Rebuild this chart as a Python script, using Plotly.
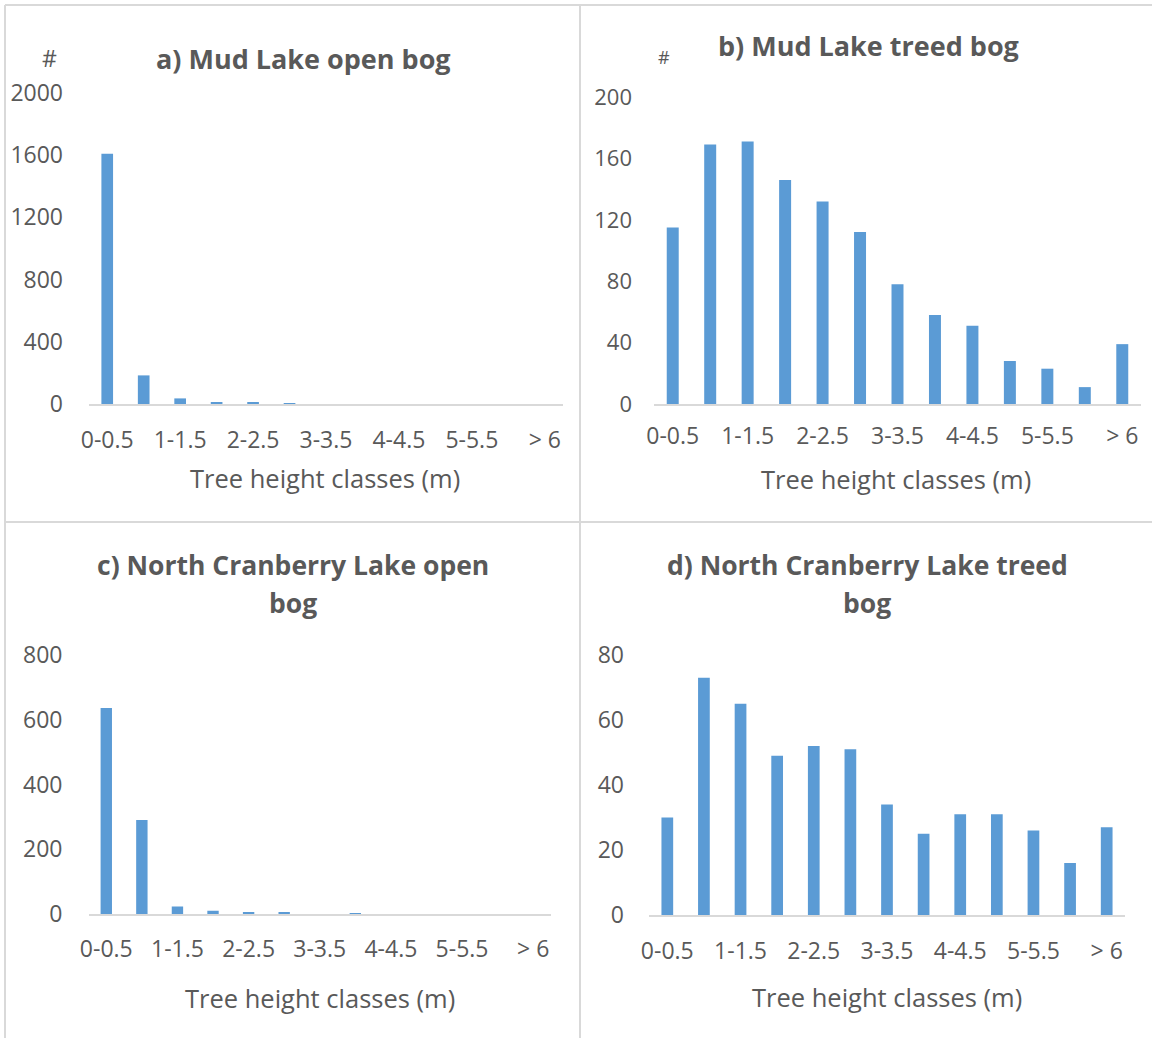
import plotly.graph_objects as go

# ---------------- data ----------------
categories = ["0-0.5", "0.5-1", "1-1.5", "1.5-2", "2-2.5", "2.5-3", "3-3.5",
              "3.5-4", "4-4.5", "4.5-5", "5-5.5", "5.5-6", "> 6"]
tick_labels = ["0-0.5", "1-1.5", "2-2.5", "3-3.5", "4-4.5", "5-5.5", "> 6"]

mud_open = [1610, 184, 36, 13, 8, 5, 0, 0, 0, 0, 0, 0, 0]
mud_treed = [115, 169, 171, 146, 132, 112, 78, 58, 51, 28, 23, 11, 39]
ncl_open = [636, 290, 23, 10, 5, 4, 0, 2, 0, 0, 0, 0, 0]
ncl_treed = [30, 73, 65, 49, 52, 51, 34, 25, 31, 31, 26, 16, 27]

title_lines = [["a) Mud Lake open bog"], ["b) Mud Lake treed bog"],
               ["c) North Cranberry Lake open", "bog"],
               ["d) North Cranberry Lake treed", "bog"]]
x_title = "Tree height classes (m)"
y_ranges = [[0, 2000], [0, 200], [0, 800], [0, 80]]
y_dticks = [400, 40, 200, 20]

# ---------------- layout helpers ----------------
W, H = 1152, 1038
def X(px):
    return px / W
def Y(py):
    return 1 - py / H

TEXT = "#595959"
BAR = "#5b9bd5"
FONT = "Open Sans"

# pixel boxes of the plot areas: (x0, x1, y_top, y_bottom)
boxes = [(89, 563, 93, 404), (654, 1141, 97, 404),
         (88.5, 551, 655, 914), (649, 1125, 655, 915)]
y_standoff = [25, 21, 25, 24]
x_standoff = [15, 11, 14, 15]

series = [mud_open, mud_treed, ncl_open, ncl_treed]

fig = go.Figure()
layout_axes = {}
for i, (vals, box) in enumerate(zip(series, boxes)):
    n = i + 1
    xa = "x" if n == 1 else f"x{n}"
    ya = "y" if n == 1 else f"y{n}"
    fig.add_trace(go.Bar(x=categories, y=vals, marker_color=BAR,
                         marker_line_width=0, width=0.32,
                         xaxis=xa, yaxis=ya, showlegend=False,
                         hoverinfo="x+y"))
    x0, x1, yt, yb = box
    xkey = "xaxis" if n == 1 else f"xaxis{n}"
    ykey = "yaxis" if n == 1 else f"yaxis{n}"
    layout_axes[xkey] = dict(
        domain=[X(x0), X(x1)], anchor=ya, type="category",
        categoryorder="array", categoryarray=categories,
        range=[-0.5, len(categories) - 0.5], automargin=False,
        tickmode="array", tickvals=tick_labels, ticktext=tick_labels,
        showline=True, linecolor="#d9d9d9", linewidth=1.5,
        showgrid=False, zeroline=False, ticks="",
        tickfont=dict(family=FONT, size=23, color=TEXT),
        ticklabelstandoff=x_standoff[i], fixedrange=True)
    layout_axes[ykey] = dict(
        domain=[Y(yb), Y(yt)], anchor=xa, range=y_ranges[i], automargin=False,
        dtick=y_dticks[i], tick0=0, showline=False, showgrid=False,
        zeroline=False, ticks="",
        tickfont=dict(family=FONT, size=23 if i != 1 else 22, color=TEXT),
        ticklabelstandoff=y_standoff[i], fixedrange=True)

fig.update_layout(**layout_axes)

annotations = []
# titles (one annotation per line)
title_x = [303, 868, 293, 867]
title_y = [[59], [46], [565, 603], [565, 603]]
title_size = [27, 27, 26.5, 26.5]
for lines, cx, ys, fs in zip(title_lines, title_x, title_y, title_size):
    for txt, cy in zip(lines, ys):
        annotations.append(dict(text=txt, x=X(cx), y=Y(cy), xref="paper", yref="paper",
                                showarrow=False, xanchor="center", yanchor="middle",
                                font=dict(family=FONT, size=fs, color=TEXT, weight="bold")))
# x axis titles
xt_pos = [(325, 478), (896, 479), (320, 998), (887, 997)]
for (cx, cy) in xt_pos:
    annotations.append(dict(text=x_title, x=X(cx), y=Y(cy), xref="paper", yref="paper",
                            showarrow=False, xanchor="center", yanchor="middle",
                            font=dict(family=FONT, size=25.5, color=TEXT)))
# "#" labels
annotations.append(dict(text="#", x=X(49), y=Y(58), xref="paper", yref="paper",
                        showarrow=False, xanchor="center", yanchor="middle",
                        font=dict(family=FONT, size=23, color=TEXT)))
annotations.append(dict(text="#", x=X(664), y=Y(57), xref="paper", yref="paper",
                        showarrow=False, xanchor="center", yanchor="middle",
                        font=dict(family=FONT, size=18, color=TEXT)))

# panel borders
BORDER = "#d9d9d9"
shapes = []
def line(x0, y0, x1, y1):
    shapes.append(dict(type="line", xref="paper", yref="paper",
                       x0=X(x0), y0=Y(y0), x1=X(x1), y1=Y(y1),
                       line=dict(color=BORDER, width=2)))
line(5, 5, 1152, 5)        # top
line(5, 5, 5, 1038)        # left
line(580, 5, 580, 1038)    # vertical divider
line(5, 522, 1152, 522)    # horizontal divider

fig.update_layout(width=W, height=H, margin=dict(l=0, r=0, t=0, b=0, pad=0),
                  paper_bgcolor="white", plot_bgcolor="white",
                  annotations=annotations, shapes=shapes,
                  font=dict(family=FONT, color=TEXT))

fig.write_html("out.html", config={"displayModeBar": False},
               post_script="document.body.style.margin='0';document.body.style.overflow='hidden';")
